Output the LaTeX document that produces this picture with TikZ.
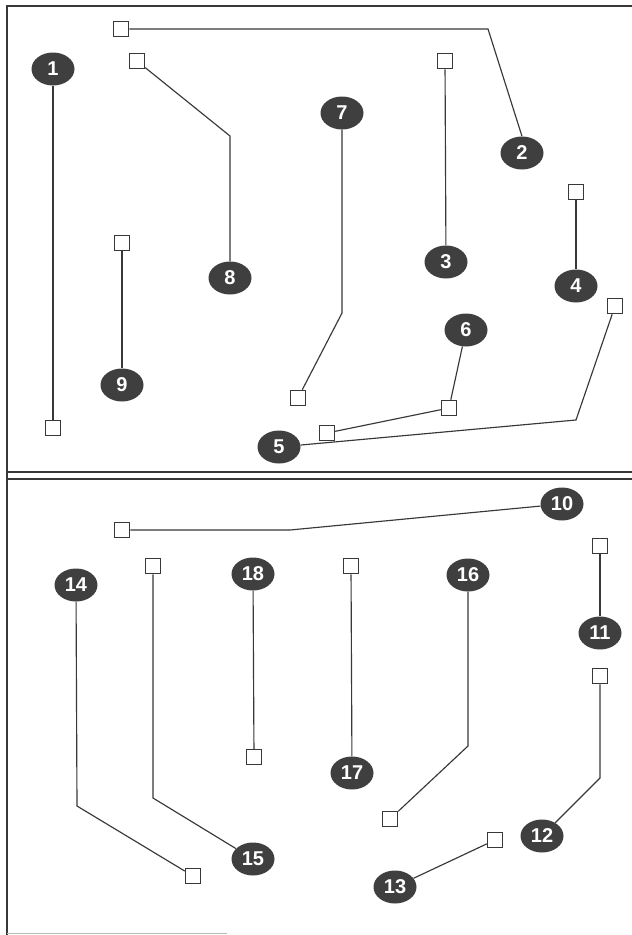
\documentclass[tikz,border=0pt]{standalone}
\usepackage{fontspec}
\setmainfont{Liberation Sans}
\usetikzlibrary{shapes.geometric}
\definecolor{ink}{HTML}{383838}
\definecolor{blob}{HTML}{3F3F3F}
\tikzset{
  callout/.style={ellipse, fill=blob, draw=none, minimum width=43pt, minimum height=33pt,
    inner sep=0pt, text=white, font=\bfseries\fontsize{20}{20}\selectfont},
  sq/.style={rectangle, draw=ink, fill=white, line width=1pt, minimum size=15.5pt, inner sep=0pt},
  lead/.style={draw=ink, line width=1.15pt},
  frameline/.style={draw=ink, line width=2.2pt},
  sepline/.style={draw=ink, line width=1.3pt}
}
\begin{document}
\begin{tikzpicture}[x=1pt,y=-1pt]
\useasboundingbox (0,0) rectangle (632,935);
\fill[white] (0,0) rectangle (632,935);
% frame
\draw[frameline] (7,935) -- (7,6) -- (632,6);
\draw[sepline] (7,472) -- (632,472);
\draw[sepline] (7,479) -- (632,479);
\draw[draw=gray!55, line width=1pt] (7,933.5) -- (227,933.5);

% ---------- top panel ----------
\node[callout] (e1) at (53,69) {1};
\node[callout] (e2) at (522,153) {2};
\node[callout] (e3) at (446,262) {3};
\node[callout] (e4) at (576,286) {4};
\node[callout] (e5) at (279,447) {5};
\node[callout] (e6) at (466,330) {6};
\node[callout] (e7) at (342,113) {7};
\node[callout] (e8) at (230,278) {8};
\node[callout] (e9) at (122,385) {9};

\node[sq] (s1) at (53,428) {};
\node[sq] (s2) at (121,29) {};
\node[sq] (s3) at (445,61) {};
\node[sq] (s4) at (576,192) {};
\node[sq] (s5) at (615,306) {};
\node[sq] (s6a) at (449,408) {};
\node[sq] (s6b) at (327,433) {};
\node[sq] (s7) at (298,398) {};
\node[sq] (s8) at (137,61) {};
\node[sq] (s9) at (122,243) {};

\coordinate (k2) at (488,29);
\coordinate (k5) at (576,420);
\coordinate (k7) at (342,313);
\coordinate (k8) at (230,136);

\draw[lead] (e1) -- (s1);
\draw[lead] (s2) -- (k2) -- (e2.north);
\draw[lead] (s3) -- (e3);
\draw[lead] (s4) -- (e4);
\draw[lead] (e5) -- (k5) -- (s5);
\draw[lead] (e6) -- (s6a) -- (s6b);
\draw[lead] (e7) -- (k7) -- (s7);
\draw[lead] (s8) -- (k8) -- (e8);
\draw[lead] (s9) -- (e9);

% ---------- bottom panel ----------
\node[callout] (e10) at (562,504) {10};
\node[callout] (e11) at (600,633) {11};
\node[callout] (e12) at (542,836) {12};
\node[callout] (e13) at (395,887) {13};
\node[callout] (e14) at (76,585) {14};
\node[callout] (e15) at (253,859) {15};
\node[callout] (e16) at (468,575) {16};
\node[callout] (e17) at (352,773) {17};
\node[callout] (e18) at (253,574) {18};

\node[sq] (s10) at (122,530) {};
\node[sq] (s11) at (600,546) {};
\node[sq] (s12) at (600,676) {};
\node[sq] (s13) at (495,840) {};
\node[sq] (s14) at (193,876) {};
\node[sq] (s15) at (153,566) {};
\node[sq] (s16) at (390,819) {};
\node[sq] (s17) at (351,566) {};
\node[sq] (s18) at (254,757) {};

\coordinate (k10) at (290,530);
\coordinate (k12) at (600,778);
\coordinate (k14) at (77,806);
\coordinate (k15) at (153,798);
\coordinate (k16) at (468,746);

\draw[lead] (s10) -- (k10) -- (e10);
\draw[lead] (s11) -- (e11);
\draw[lead] (s12) -- (k12) -- (e12);
\draw[lead] (s13) -- (e13);
\draw[lead] (e14) -- (k14) -- (s14);
\draw[lead] (s15) -- (k15) -- (e15);
\draw[lead] (e16) -- (k16) -- (s16);
\draw[lead] (s17) -- (e17);
\draw[lead] (e18) -- (s18);
\end{tikzpicture}
\end{document}
